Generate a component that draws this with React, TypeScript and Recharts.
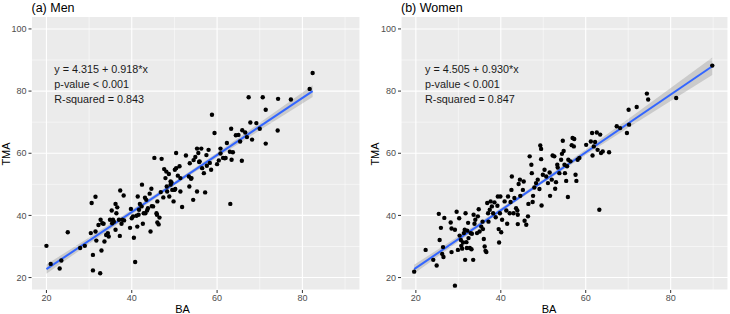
import { ComposedChart, Scatter, Line, Area, XAxis, YAxis, CartesianGrid, ReferenceLine } from "recharts"

const FONT = "'Liberation Sans', Arial, Helvetica, sans-serif"

const xTicks = [20, 40, 60, 80]
const yTicks = [20, 40, 60, 80, 100]
const xMinor = [30, 50, 70, 90]
const yMinor = [30, 50, 70, 90]

// (a) Men
const menBA = [
  20.0, 21.0, 23.5, 23.1, 25.0, 27.9, 29.0, 30.6, 31.5, 30.4,
  30.9, 30.9, 31.5, 31.7, 32.6, 32.2, 32.7, 33.1, 32.9, 33.6,
  33.4, 34.0, 34.4, 34.9, 35.3, 35.4, 35.8, 36.2, 36.4, 36.2,
  36.6, 37.3, 37.2, 37.6, 37.8, 38.1, 38.2, 39.6, 39.8, 40.0,
  40.3, 40.5, 40.8, 41.1, 41.3, 41.4, 41.6, 41.7, 41.9, 42.4,
  42.6, 42.8, 43.1, 43.4, 43.6, 43.8, 44.2, 44.4, 44.6, 44.7,
  45.0, 45.3, 45.8, 46.0, 46.0, 46.3, 46.5, 46.8, 47.0, 47.4,
  47.6, 47.9, 48.2, 48.7, 48.8, 49.3, 49.5, 49.8, 50.0, 50.4,
  50.4, 50.8, 51.2, 51.4, 51.8, 52.7, 53.4, 53.6, 53.9, 53.5,
  54.4, 54.5, 54.9, 55.3, 55.3, 55.6, 55.8, 56.3, 56.5, 56.9,
  57.2, 57.5, 57.6, 58.0, 58.3, 58.6, 58.8, 59.4, 60.0, 60.4,
  60.8, 61.4, 62.0, 62.3, 63.0, 63.1, 63.3, 63.4, 63.7, 64.4,
  65.0, 65.4, 65.8, 65.9, 66.6, 67.0, 67.4, 67.8, 68.2, 69.2,
  70.0, 70.7, 71.4, 71.4, 74.3, 74.2, 77.3, 81.7, 82.4,
  48.1, 50.1, 51.4, 54.0, 49.1, 50.2, 48.3, 60.8, 61.8, 55.9,
  34.6, 35.6, 37.0, 42.3, 43.2, 45.9, 49.1,
]
const menTMA = [
  30.2, 24.4, 25.5, 22.9, 34.6, 29.5, 30.2, 44.0, 46.0, 34.3,
  27.3, 22.3, 34.8, 31.9, 21.4, 36.9, 38.6, 37.5, 28.7, 31.6,
  37.3, 33.7, 34.3, 38.6, 41.6, 37.5, 38.0, 43.7, 40.7, 35.4,
  42.6, 48.0, 33.4, 37.3, 38.6, 46.4, 38.4, 36.0, 42.1, 39.1,
  39.7, 32.8, 25.0, 39.9, 36.4, 46.1, 40.2, 41.8, 43.7, 49.9,
  37.3, 40.7, 45.7, 45.0, 41.6, 42.3, 47.0, 34.8, 48.6, 43.0,
  42.9, 58.5, 40.7, 44.5, 37.7, 37.1, 39.3, 47.5, 58.2, 45.8,
  54.9, 52.0, 49.3, 53.3, 46.1, 50.6, 48.2, 44.5, 48.2, 60.1,
  55.2, 52.8, 55.8, 47.7, 42.7, 59.3, 52.5, 56.8, 51.8, 49.3,
  45.0, 57.8, 58.8, 61.5, 47.7, 60.1, 57.2, 61.5, 55.2, 53.6,
  47.4, 59.4, 56.0, 61.1, 56.9, 54.7, 72.4, 66.5, 56.5, 57.7,
  61.5, 58.5, 58.5, 63.3, 60.5, 43.7, 67.9, 57.9, 60.3, 65.8,
  65.9, 63.8, 57.6, 67.4, 66.7, 65.2, 78.0, 69.9, 64.4, 69.7,
  67.9, 78.0, 74.0, 63.1, 77.5, 67.3, 77.3, 80.7, 85.8,
  54.1, 54.7, 52.0, 52.0, 50.9, 48.5, 47.7, 59.9, 58.4, 57.4,
  33.2, 38.6, 38.6, 42.9, 40.7, 40.2, 49.9,
]
const menFitBA = [20, 82.4]
const menFitTMA = [22.7, 80.0]
const menBandBA = [20, 30, 40, 50, 60, 70, 82.4]
const menBandLo = [21.2, 30.9, 40.3, 49.6, 58.6, 67.4, 78.1]
const menBandHi = [24.2, 32.9, 41.8, 50.8, 60.2, 69.8, 81.9]
const menStats = ["y = 4.315 + 0.918*x", "p-value < 0.001", "R-squared = 0.843"]

// (b) Women
const womenBA = [
  19.6, 22.3, 24.1, 24.9, 25.4, 25.6, 25.9, 26.2, 26.5, 26.4,
  26.7, 28.2, 28.4, 28.4, 29.2, 29.2, 29.6, 29.9, 30.2, 30.3,
  30.6, 30.7, 30.9, 31.1, 31.3, 31.5, 31.6, 31.7, 31.9, 32.0,
  32.1, 32.3, 32.4, 32.7, 32.9, 33.1, 33.5, 33.6, 33.2, 33.8,
  34.0, 34.4, 34.6, 34.8, 35.0, 35.4, 35.7, 35.8, 36.0, 36.2,
  36.4, 36.6, 36.8, 37.0, 37.1, 37.4, 37.6, 37.9, 38.2, 38.5,
  38.8, 39.2, 39.3, 39.5, 39.6, 39.8, 39.9, 40.1, 40.3, 40.9,
  41.3, 41.5, 41.7, 42.1, 42.3, 42.5, 42.6, 43.0, 43.2, 43.6,
  43.9, 44.0, 44.2, 44.5, 44.0, 44.6, 45.2, 45.4, 45.6, 46.0,
  46.4, 46.5, 46.8, 47.2, 47.3, 47.5, 47.6, 47.9, 48.3, 48.7,
  49.1, 49.3, 49.5, 49.5, 49.6, 49.9, 50.3, 50.7, 51.1, 51.5,
  51.6, 52.0, 52.2, 52.6, 52.8, 53.0, 53.3, 53.4, 53.8, 54.2,
  54.4, 54.6, 54.8, 55.0, 55.1, 55.4, 55.6, 55.8, 55.9, 56.4,
  56.7, 56.9, 57.2, 57.3, 57.6, 57.8, 58.1, 58.5, 60.1, 61.2,
  61.5, 61.6, 61.9, 62.2, 62.6, 62.8, 63.2, 63.4, 63.6, 64.0,
  65.5, 67.3, 68.1, 69.7, 70.1, 70.2, 72.0, 74.4, 74.7, 81.3,
  89.8,
]
const womenTMA = [
  21.9, 28.9, 25.7, 23.9, 40.5, 32.1, 36.0, 27.6, 26.6, 29.8,
  39.2, 37.7, 28.2, 35.8, 35.4, 17.4, 41.2, 28.9, 39.1, 33.5,
  32.1, 30.2, 29.3, 31.3, 34.3, 35.4, 25.7, 40.7, 31.4, 29.5,
  35.1, 37.6, 32.7, 29.5, 34.3, 29.1, 25.7, 40.2, 34.1, 37.3,
  38.6, 34.3, 39.7, 42.0, 34.8, 36.4, 38.0, 35.6, 32.4, 30.0,
  28.6, 28.2, 44.0, 40.7, 38.0, 41.8, 44.5, 42.9, 40.7, 44.2,
  39.4, 43.1, 46.1, 35.6, 31.3, 40.7, 46.1, 34.6, 38.6, 44.5,
  41.6, 37.3, 46.1, 40.7, 44.3, 48.2, 52.5, 40.7, 45.6, 42.3,
  41.6, 40.2, 50.1, 51.5, 37.2, 46.3, 48.2, 50.9, 38.3, 37.0,
  39.7, 43.7, 59.0, 56.3, 53.6, 44.3, 46.3, 49.0, 50.4, 51.5,
  48.5, 62.5, 61.4, 58.1, 43.2, 53.1, 54.7, 52.5, 50.4, 53.8,
  46.3, 51.5, 59.3, 59.0, 48.6, 50.7, 56.3, 55.4, 53.6, 57.9,
  59.8, 64.0, 60.7, 56.3, 53.6, 51.1, 55.8, 45.9, 57.9, 57.4,
  62.6, 64.9, 62.2, 64.6, 53.1, 51.1, 57.9, 58.5, 62.7, 63.8,
  66.5, 59.3, 62.2, 63.6, 66.7, 61.1, 41.8, 66.0, 60.1, 60.6,
  60.3, 68.7, 68.1, 66.5, 74.0, 69.2, 74.9, 79.2, 77.3, 77.8,
  88.2,
]
const womenFitBA = [19.6, 89.8]
const womenFitTMA = [22.7, 88.0]
const womenBandBA = [19.6, 30, 40, 50, 60, 70, 80, 89.8]
const womenBandLo = [21.3, 31.5, 41.1, 50.4, 59.4, 68.2, 76.8, 85.2]
const womenBandHi = [24.1, 33.3, 42.3, 51.6, 61.2, 71.0, 81.0, 90.8]
const womenStats = ["y = 4.505 + 0.930*x", "p-value < 0.001", "R-squared = 0.847"]

const pairs = (xs: number[], ys: number[]) => xs.map((x, i) => ({ x, y: ys[i] }))
const ribbon = (xs: number[], lo: number[], hi: number[]) =>
  xs.map((x, i) => ({ x, range: [lo[i], hi[i]] }))

const Dot = (p: any) => <circle cx={p.cx} cy={p.cy} r={2.2} fill="#000000" />

interface PanelProps {
  left: number
  axisWidth: number
  rightGap: number
  title: string
  ba: number[]
  tma: number[]
  fitBA: number[]
  fitTMA: number[]
  bandBA: number[]
  bandLo: number[]
  bandHi: number[]
  stats: string[]
  statsX: number
  baX: number
}

function Panel(props: PanelProps) {
  const { left, axisWidth, rightGap, title, stats, statsX, baX } = props
  const points = pairs(props.ba, props.tma)
  const fit = pairs(props.fitBA, props.fitTMA)
  const band = ribbon(props.bandBA, props.bandLo, props.bandHi)
  const tick = { fill: "#4D4D4D", fontSize: 9, fontFamily: FONT }

  return (
    <div style={{ position: "absolute", left, top: 0, width: 365, height: 314 }}>
      <ComposedChart
        width={365}
        height={314}
        data={band}
        margin={{ top: 16.5, right: rightGap, bottom: 0, left: 0 }}
      >
        <CartesianGrid fill="#EBEBEB" fillOpacity={1} stroke="#FFFFFF" strokeWidth={1.1} />
        {xMinor.map((v) => (
          <ReferenceLine key={"x" + v} x={v} stroke="#FFFFFF" strokeWidth={0.5} />
        ))}
        {yMinor.map((v) => (
          <ReferenceLine key={"y" + v} y={v} stroke="#FFFFFF" strokeWidth={0.5} />
        ))}
        <XAxis
          type="number"
          dataKey="x"
          domain={[16.5, 93.5]}
          ticks={xTicks}
          interval={0}
          allowDataOverflow
          axisLine={false}
          tickLine={{ stroke: "#333333" }}
          tickSize={3}
          tickMargin={2}
          tick={tick}
          height={24}
        />
        <YAxis
          type="number"
          domain={[16, 104]}
          ticks={yTicks}
          interval={0}
          allowDataOverflow
          axisLine={false}
          tickLine={{ stroke: "#333333" }}
          tickSize={3}
          tickMargin={2}
          tick={tick}
          width={axisWidth}
        />
        <Scatter data={points} dataKey="y" shape={Dot} isAnimationActive={false} />
        <Area
          dataKey="range"
          type="linear"
          fill="#999999"
          fillOpacity={0.4}
          stroke="none"
          isAnimationActive={false}
        />
        <Line
          data={fit}
          dataKey="y"
          type="linear"
          stroke="#3366FF"
          strokeWidth={2}
          dot={false}
          isAnimationActive={false}
        />
      </ComposedChart>
      <svg
        width={365}
        height={314}
        style={{ position: "absolute", left: 0, top: 0, pointerEvents: "none" }}
        fontFamily={FONT}
      >
        <text x={axisWidth} y={12} fontSize={12.5} fill="#000000">
          {title}
        </text>
        {stats.map((s, i) => (
          <text key={s} x={statsX} y={73 + i * 15} fontSize={10.8} fill="#1A1A1A">
            {s}
          </text>
        ))}
        <text x={baX} y={313} fontSize={11} fill="#000000" textAnchor="middle">
          BA
        </text>
        <text
          x={0}
          y={0}
          fontSize={11}
          fill="#000000"
          textAnchor="middle"
          dominantBaseline="central"
          transform={`translate(${axisWidth - 26},154) rotate(-90)`}
        >
          TMA
        </text>
      </svg>
    </div>
  )
}

export default function App() {
  return (
    <div style={{ position: "absolute", left: 0, top: 0, width: 730, height: 314, background: "#FFFFFF" }}>
      <Panel
        left={0}
        axisWidth={31.5}
        rightGap={5}
        title="(a) Men"
        ba={menBA}
        tma={menTMA}
        fitBA={menFitBA}
        fitTMA={menFitTMA}
        bandBA={menBandBA}
        bandLo={menBandLo}
        bandHi={menBandHi}
        stats={menStats}
        statsX={54.3}
        baX={182.5}
      />
      <Panel
        left={365}
        axisWidth={36}
        rightGap={2}
        title="(b) Women"
        ba={womenBA}
        tma={womenTMA}
        fitBA={womenFitBA}
        fitTMA={womenFitTMA}
        bandBA={womenBandBA}
        bandLo={womenBandLo}
        bandHi={womenBandHi}
        stats={womenStats}
        statsX={60}
        baX={184}
      />
    </div>
  )
}
